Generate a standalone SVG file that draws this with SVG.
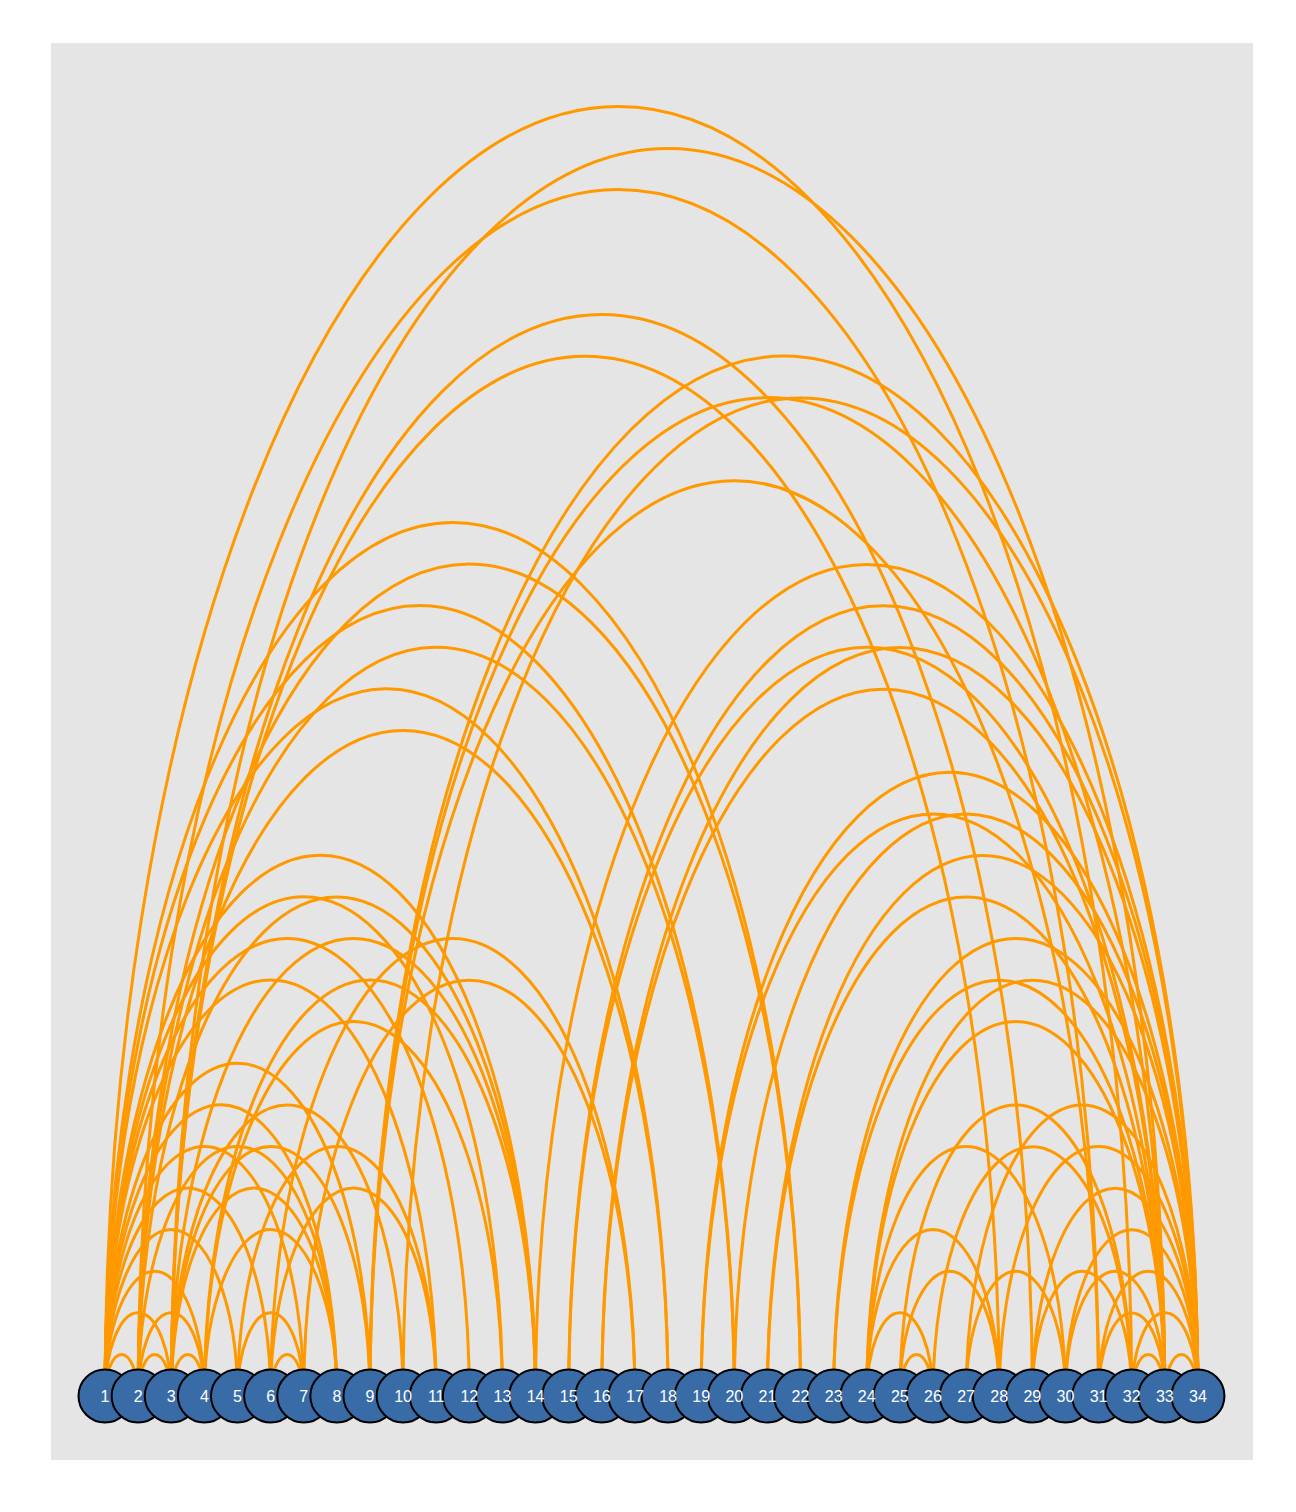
<svg xmlns="http://www.w3.org/2000/svg" width="1296" height="1512" viewBox="0 0 1296 1512">
<style>
.e{fill:none;stroke:#FF9900;stroke-width:3}
.n{fill:#396CA6;stroke:#000;stroke-width:2}
.t{font-family:"Liberation Sans",Arial,sans-serif;font-size:16px;fill:#fff;text-anchor:middle}
</style>
<rect x="51" y="43" width="1202" height="1417" fill="#E5E5E5"/>
<g id="edges">
<path class="e" d="M105 1396A16.56 41.6 0 0 1 138.12 1396"/>
<path class="e" d="M105 1396A33.12 83.2 0 0 1 171.24 1396"/>
<path class="e" d="M105 1396A49.68 124.8 0 0 1 204.36 1396"/>
<path class="e" d="M105 1396A66.24 166.4 0 0 1 237.48 1396"/>
<path class="e" d="M105 1396A82.8 208 0 0 1 270.6 1396"/>
<path class="e" d="M105 1396A99.36 249.6 0 0 1 303.72 1396"/>
<path class="e" d="M105 1396A115.92 291.2 0 0 1 336.84 1396"/>
<path class="e" d="M105 1396A132.48 332.8 0 0 1 369.96 1396"/>
<path class="e" d="M105 1396A165.6 416 0 0 1 436.2 1396"/>
<path class="e" d="M105 1396A182.16 457.6 0 0 1 469.32 1396"/>
<path class="e" d="M105 1396A198.72 499.2 0 0 1 502.44 1396"/>
<path class="e" d="M105 1396A215.28 540.8 0 0 1 535.56 1396"/>
<path class="e" d="M105 1396A281.52 707.2 0 0 1 668.04 1396"/>
<path class="e" d="M105 1396A314.64 790.4 0 0 1 734.28 1396"/>
<path class="e" d="M105 1396A347.76 873.6 0 0 1 800.52 1396"/>
<path class="e" d="M105 1396A513.36 1289.6 0 0 1 1131.72 1396"/>
<path class="e" d="M138.12 1396A16.56 41.6 0 0 1 171.24 1396"/>
<path class="e" d="M138.12 1396A33.12 83.2 0 0 1 204.36 1396"/>
<path class="e" d="M138.12 1396A99.36 249.6 0 0 1 336.84 1396"/>
<path class="e" d="M138.12 1396A198.72 499.2 0 0 1 535.56 1396"/>
<path class="e" d="M138.12 1396A264.96 665.6 0 0 1 668.04 1396"/>
<path class="e" d="M138.12 1396A298.08 748.8 0 0 1 734.28 1396"/>
<path class="e" d="M138.12 1396A331.2 832 0 0 1 800.52 1396"/>
<path class="e" d="M138.12 1396A480.24 1206.4 0 0 1 1098.6 1396"/>
<path class="e" d="M171.24 1396A16.56 41.6 0 0 1 204.36 1396"/>
<path class="e" d="M171.24 1396A82.8 208 0 0 1 336.84 1396"/>
<path class="e" d="M171.24 1396A99.36 249.6 0 0 1 369.96 1396"/>
<path class="e" d="M171.24 1396A115.92 291.2 0 0 1 403.08 1396"/>
<path class="e" d="M171.24 1396A182.16 457.6 0 0 1 535.56 1396"/>
<path class="e" d="M171.24 1396A414 1040 0 0 1 999.24 1396"/>
<path class="e" d="M171.24 1396A430.56 1081.6 0 0 1 1032.36 1396"/>
<path class="e" d="M171.24 1396A496.8 1248 0 0 1 1164.84 1396"/>
<path class="e" d="M204.36 1396A66.24 166.4 0 0 1 336.84 1396"/>
<path class="e" d="M204.36 1396A149.04 374.4 0 0 1 502.44 1396"/>
<path class="e" d="M204.36 1396A165.6 416 0 0 1 535.56 1396"/>
<path class="e" d="M237.48 1396A33.12 83.2 0 0 1 303.72 1396"/>
<path class="e" d="M237.48 1396A99.36 249.6 0 0 1 436.2 1396"/>
<path class="e" d="M270.6 1396A16.56 41.6 0 0 1 303.72 1396"/>
<path class="e" d="M270.6 1396A82.8 208 0 0 1 436.2 1396"/>
<path class="e" d="M270.6 1396A182.16 457.6 0 0 1 634.92 1396"/>
<path class="e" d="M303.72 1396A165.6 416 0 0 1 634.92 1396"/>
<path class="e" d="M369.96 1396A364.32 915.2 0 0 1 1098.6 1396"/>
<path class="e" d="M369.96 1396A397.44 998.4 0 0 1 1164.84 1396"/>
<path class="e" d="M369.96 1396A414 1040 0 0 1 1197.96 1396"/>
<path class="e" d="M403.08 1396A397.44 998.4 0 0 1 1197.96 1396"/>
<path class="e" d="M535.56 1396A331.2 832 0 0 1 1197.96 1396"/>
<path class="e" d="M568.68 1396A298.08 748.8 0 0 1 1164.84 1396"/>
<path class="e" d="M568.68 1396A314.64 790.4 0 0 1 1197.96 1396"/>
<path class="e" d="M601.8 1396A281.52 707.2 0 0 1 1164.84 1396"/>
<path class="e" d="M601.8 1396A298.08 748.8 0 0 1 1197.96 1396"/>
<path class="e" d="M701.16 1396A231.84 582.4 0 0 1 1164.84 1396"/>
<path class="e" d="M701.16 1396A248.4 624 0 0 1 1197.96 1396"/>
<path class="e" d="M734.28 1396A231.84 582.4 0 0 1 1197.96 1396"/>
<path class="e" d="M767.4 1396A198.72 499.2 0 0 1 1164.84 1396"/>
<path class="e" d="M767.4 1396A215.28 540.8 0 0 1 1197.96 1396"/>
<path class="e" d="M833.64 1396A165.6 416 0 0 1 1164.84 1396"/>
<path class="e" d="M833.64 1396A182.16 457.6 0 0 1 1197.96 1396"/>
<path class="e" d="M866.76 1396A33.12 83.2 0 0 1 933 1396"/>
<path class="e" d="M866.76 1396A66.24 166.4 0 0 1 999.24 1396"/>
<path class="e" d="M866.76 1396A99.36 249.6 0 0 1 1065.48 1396"/>
<path class="e" d="M866.76 1396A149.04 374.4 0 0 1 1164.84 1396"/>
<path class="e" d="M866.76 1396A165.6 416 0 0 1 1197.96 1396"/>
<path class="e" d="M899.88 1396A16.56 41.6 0 0 1 933 1396"/>
<path class="e" d="M899.88 1396A49.68 124.8 0 0 1 999.24 1396"/>
<path class="e" d="M899.88 1396A115.92 291.2 0 0 1 1131.72 1396"/>
<path class="e" d="M933 1396A99.36 249.6 0 0 1 1131.72 1396"/>
<path class="e" d="M966.12 1396A49.68 124.8 0 0 1 1065.48 1396"/>
<path class="e" d="M966.12 1396A115.92 291.2 0 0 1 1197.96 1396"/>
<path class="e" d="M999.24 1396A99.36 249.6 0 0 1 1197.96 1396"/>
<path class="e" d="M1032.36 1396A49.68 124.8 0 0 1 1131.72 1396"/>
<path class="e" d="M1032.36 1396A82.8 208 0 0 1 1197.96 1396"/>
<path class="e" d="M1065.48 1396A49.68 124.8 0 0 1 1164.84 1396"/>
<path class="e" d="M1065.48 1396A66.24 166.4 0 0 1 1197.96 1396"/>
<path class="e" d="M1098.6 1396A33.12 83.2 0 0 1 1164.84 1396"/>
<path class="e" d="M1098.6 1396A49.68 124.8 0 0 1 1197.96 1396"/>
<path class="e" d="M1131.72 1396A16.56 41.6 0 0 1 1164.84 1396"/>
<path class="e" d="M1131.72 1396A33.12 83.2 0 0 1 1197.96 1396"/>
<path class="e" d="M1164.84 1396A16.56 41.6 0 0 1 1197.96 1396"/>
</g>
<g id="nodes">
<g id="n1"><circle class="n" cx="105" cy="1396" r="26.5"/></g>
<g id="n2"><circle class="n" cx="138.12" cy="1396" r="26.5"/></g>
<g id="n3"><circle class="n" cx="171.24" cy="1396" r="26.5"/></g>
<g id="n4"><circle class="n" cx="204.36" cy="1396" r="26.5"/></g>
<g id="n5"><circle class="n" cx="237.48" cy="1396" r="26.5"/></g>
<g id="n6"><circle class="n" cx="270.6" cy="1396" r="26.5"/></g>
<g id="n7"><circle class="n" cx="303.72" cy="1396" r="26.5"/></g>
<g id="n8"><circle class="n" cx="336.84" cy="1396" r="26.5"/></g>
<g id="n9"><circle class="n" cx="369.96" cy="1396" r="26.5"/></g>
<g id="n10"><circle class="n" cx="403.08" cy="1396" r="26.5"/></g>
<g id="n11"><circle class="n" cx="436.2" cy="1396" r="26.5"/></g>
<g id="n12"><circle class="n" cx="469.32" cy="1396" r="26.5"/></g>
<g id="n13"><circle class="n" cx="502.44" cy="1396" r="26.5"/></g>
<g id="n14"><circle class="n" cx="535.56" cy="1396" r="26.5"/></g>
<g id="n15"><circle class="n" cx="568.68" cy="1396" r="26.5"/></g>
<g id="n16"><circle class="n" cx="601.8" cy="1396" r="26.5"/></g>
<g id="n17"><circle class="n" cx="634.92" cy="1396" r="26.5"/></g>
<g id="n18"><circle class="n" cx="668.04" cy="1396" r="26.5"/></g>
<g id="n19"><circle class="n" cx="701.16" cy="1396" r="26.5"/></g>
<g id="n20"><circle class="n" cx="734.28" cy="1396" r="26.5"/></g>
<g id="n21"><circle class="n" cx="767.4" cy="1396" r="26.5"/></g>
<g id="n22"><circle class="n" cx="800.52" cy="1396" r="26.5"/></g>
<g id="n23"><circle class="n" cx="833.64" cy="1396" r="26.5"/></g>
<g id="n24"><circle class="n" cx="866.76" cy="1396" r="26.5"/></g>
<g id="n25"><circle class="n" cx="899.88" cy="1396" r="26.5"/></g>
<g id="n26"><circle class="n" cx="933" cy="1396" r="26.5"/></g>
<g id="n27"><circle class="n" cx="966.12" cy="1396" r="26.5"/></g>
<g id="n28"><circle class="n" cx="999.24" cy="1396" r="26.5"/></g>
<g id="n29"><circle class="n" cx="1032.36" cy="1396" r="26.5"/></g>
<g id="n30"><circle class="n" cx="1065.48" cy="1396" r="26.5"/></g>
<g id="n31"><circle class="n" cx="1098.6" cy="1396" r="26.5"/></g>
<g id="n32"><circle class="n" cx="1131.72" cy="1396" r="26.5"/></g>
<g id="n33"><circle class="n" cx="1164.84" cy="1396" r="26.5"/></g>
<g id="n34"><circle class="n" cx="1197.96" cy="1396" r="26.5"/></g>
</g>
<g id="labels">
<text class="t" x="105" y="1402">1</text>
<text class="t" x="138.12" y="1402">2</text>
<text class="t" x="171.24" y="1402">3</text>
<text class="t" x="204.36" y="1402">4</text>
<text class="t" x="237.48" y="1402">5</text>
<text class="t" x="270.6" y="1402">6</text>
<text class="t" x="303.72" y="1402">7</text>
<text class="t" x="336.84" y="1402">8</text>
<text class="t" x="369.96" y="1402">9</text>
<text class="t" x="403.08" y="1402">10</text>
<text class="t" x="436.2" y="1402">11</text>
<text class="t" x="469.32" y="1402">12</text>
<text class="t" x="502.44" y="1402">13</text>
<text class="t" x="535.56" y="1402">14</text>
<text class="t" x="568.68" y="1402">15</text>
<text class="t" x="601.8" y="1402">16</text>
<text class="t" x="634.92" y="1402">17</text>
<text class="t" x="668.04" y="1402">18</text>
<text class="t" x="701.16" y="1402">19</text>
<text class="t" x="734.28" y="1402">20</text>
<text class="t" x="767.4" y="1402">21</text>
<text class="t" x="800.52" y="1402">22</text>
<text class="t" x="833.64" y="1402">23</text>
<text class="t" x="866.76" y="1402">24</text>
<text class="t" x="899.88" y="1402">25</text>
<text class="t" x="933" y="1402">26</text>
<text class="t" x="966.12" y="1402">27</text>
<text class="t" x="999.24" y="1402">28</text>
<text class="t" x="1032.36" y="1402">29</text>
<text class="t" x="1065.48" y="1402">30</text>
<text class="t" x="1098.6" y="1402">31</text>
<text class="t" x="1131.72" y="1402">32</text>
<text class="t" x="1164.84" y="1402">33</text>
<text class="t" x="1197.96" y="1402">34</text>
</g>
</svg>
